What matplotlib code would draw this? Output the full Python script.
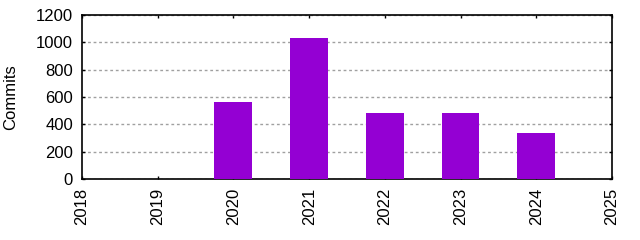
import matplotlib
matplotlib.use("Agg")
import matplotlib.pyplot as plt

years = [2020, 2021, 2022, 2023, 2024]
commits = [565, 1030, 483, 483, 336]
xticks = [2018, 2019, 2020, 2021, 2022, 2023, 2024, 2025]
yticks = [0, 200, 400, 600, 800, 1000, 1200]

plt.rcParams['font.family'] = ['Liberation Sans', 'DejaVu Sans']
plt.rcParams['font.size'] = 12

fig = plt.figure(figsize=(6.4, 2.4), dpi=100)
ax = fig.add_axes([82/640, 1 - 179/240, (612-82)/640, (179-15)/240])

ax.bar(years, commits, width=0.5, color='#9400D3', zorder=3)
ax.set_xlim(2018, 2025)
ax.set_ylim(0, 1200)
ax.set_xticks(xticks)
ax.set_xticklabels([str(x) for x in xticks], rotation=90)
ax.set_yticks(yticks)
ax.yaxis.grid(True, linestyle=(0, (2, 2)), color='#a0a0a0', linewidth=1, zorder=0)
ax.tick_params(direction='in', top=True, right=True, length=2, width=1, colors='black', labelsize=12)
ax.tick_params(axis='y', pad=6.5)
ax.tick_params(axis='x', pad=6.5)
for s in ax.spines.values():
    s.set_linewidth(1.2)
fig.text(11/640, 1 - 97/240, 'Commits', rotation=90, ha='center', va='center', fontsize=12)

fig.savefig('out.png', dpi=100)
